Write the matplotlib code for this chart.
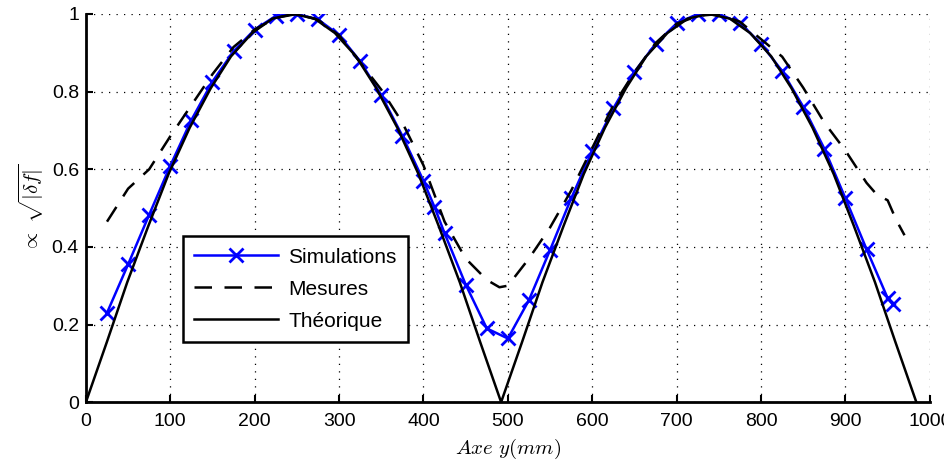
import matplotlib
matplotlib.use("Agg")
import matplotlib.pyplot as plt

plt.rcParams['font.family'] = ['Liberation Sans', 'DejaVu Sans']
plt.rcParams['mathtext.fontset'] = 'cm'

# Simulations (blue, x markers)
sim_x = [25, 50, 75, 100, 125, 150, 175, 200, 225, 250, 275, 300, 325, 350, 375, 400, 413, 425,
         450, 475, 500, 525, 550, 575, 600, 625, 650, 675, 700, 725, 750, 775, 800, 825, 850,
         875, 900, 925, 950, 956]
sim_y = [0.23, 0.355, 0.483, 0.609, 0.727, 0.826, 0.904, 0.96, 0.995, 1.0, 0.986, 0.946, 0.878, 0.791,
         0.686, 0.57, 0.503, 0.435, 0.303, 0.19, 0.164, 0.263, 0.392, 0.525, 0.647, 0.757, 0.851,
         0.923, 0.976, 1.0, 1.0, 0.977, 0.923, 0.853, 0.761, 0.653, 0.525, 0.394, 0.268, 0.252]

# Mesures (dashed)
mes_x = [25, 50, 75, 100, 125, 150, 175, 200, 225, 250, 275, 300, 325, 350, 375, 400, 425,
         450, 475, 490, 500, 525, 550, 575, 600, 625, 650, 675, 700, 725, 750, 775, 800, 825,
         850, 875, 900, 925, 937, 950, 960, 970]
mes_y = [0.465, 0.55, 0.60, 0.685, 0.765, 0.845, 0.915, 0.96, 0.99, 1.0, 0.985, 0.945, 0.875,
         0.805, 0.72, 0.61, 0.465, 0.37, 0.315, 0.296, 0.30, 0.37, 0.45, 0.545, 0.655, 0.765,
         0.85, 0.925, 0.975, 0.995, 1.0, 0.98, 0.935, 0.89, 0.81, 0.72, 0.648, 0.565, 0.535,
         0.52, 0.47, 0.43]

# Theorique (solid black)
theo_x = [0, 25, 49, 74, 98, 123, 148, 172, 197, 221, 246, 271, 295, 320, 344, 369, 394, 418,
          443, 467, 492, 517, 541, 566, 590, 615, 640, 664, 689, 713, 738, 763, 787, 812, 836,
          861, 886, 910, 935, 959, 984]
theo_y = [0, 0.156, 0.309, 0.454, 0.588, 0.707, 0.809, 0.891, 0.951, 0.988, 1.0, 0.988, 0.951,
          0.891, 0.809, 0.707, 0.588, 0.454, 0.309, 0.156, 0, 0.156, 0.309, 0.454, 0.588, 0.707,
          0.809, 0.891, 0.951, 0.988, 1.0, 0.988, 0.951, 0.891, 0.809, 0.707, 0.588, 0.454,
          0.309, 0.156, 0]

x_ticks = [0, 100, 200, 300, 400, 500, 600, 700, 800, 900, 1000]
y_ticks = [0, 0.2, 0.4, 0.6, 0.8, 1]
y_tick_labels = ['0', '0.2', '0.4', '0.6', '0.8', '1']

fig = plt.figure(figsize=(9.44, 4.66), dpi=100)
ax = fig.add_axes([0.091, 0.137, 0.894, 0.833])

ax.plot(sim_x, sim_y, color='#0000ff', lw=1.8, marker='x', ms=10, mew=2, label='Simulations')
ax.plot(mes_x, mes_y, color='black', lw=1.8, dashes=(7, 5), label='Mesures')
ax.plot(theo_x, theo_y, color='black', lw=1.8, label='Théorique')

ax.set_xlim(0, 1000)
ax.set_ylim(0, 1)
ax.set_xticks(x_ticks)
ax.set_yticks(y_ticks)
ax.set_yticklabels(y_tick_labels)
ax.tick_params(direction='in', length=5, width=1.5, labelsize=14, top=False, right=False)
ax.tick_params(axis='x', pad=8)
ax.tick_params(axis='y', pad=5)
ax.grid(True, color='black', linestyle=(0, (1, 5)), lw=0.9)

for side in ['top', 'right']:
    ax.spines[side].set_visible(False)
for side in ['left', 'bottom']:
    ax.spines[side].set_linewidth(2)

ax.set_xlabel(r'$Axe\ y(mm)$', fontsize=15, labelpad=5)
ax.set_ylabel(r'$\propto\ \sqrt{|\delta f|}$', fontsize=15, labelpad=4)

leg = ax.legend(loc='lower left', bbox_to_anchor=(0.115, 0.155), fontsize=15, fancybox=False,
                edgecolor='black', framealpha=1, handlelength=4, borderpad=0.55,
                labelspacing=0.62, handletextpad=0.5, borderaxespad=0)
leg.get_frame().set_linewidth(1.8)

fig.savefig('out.png', dpi=100)
